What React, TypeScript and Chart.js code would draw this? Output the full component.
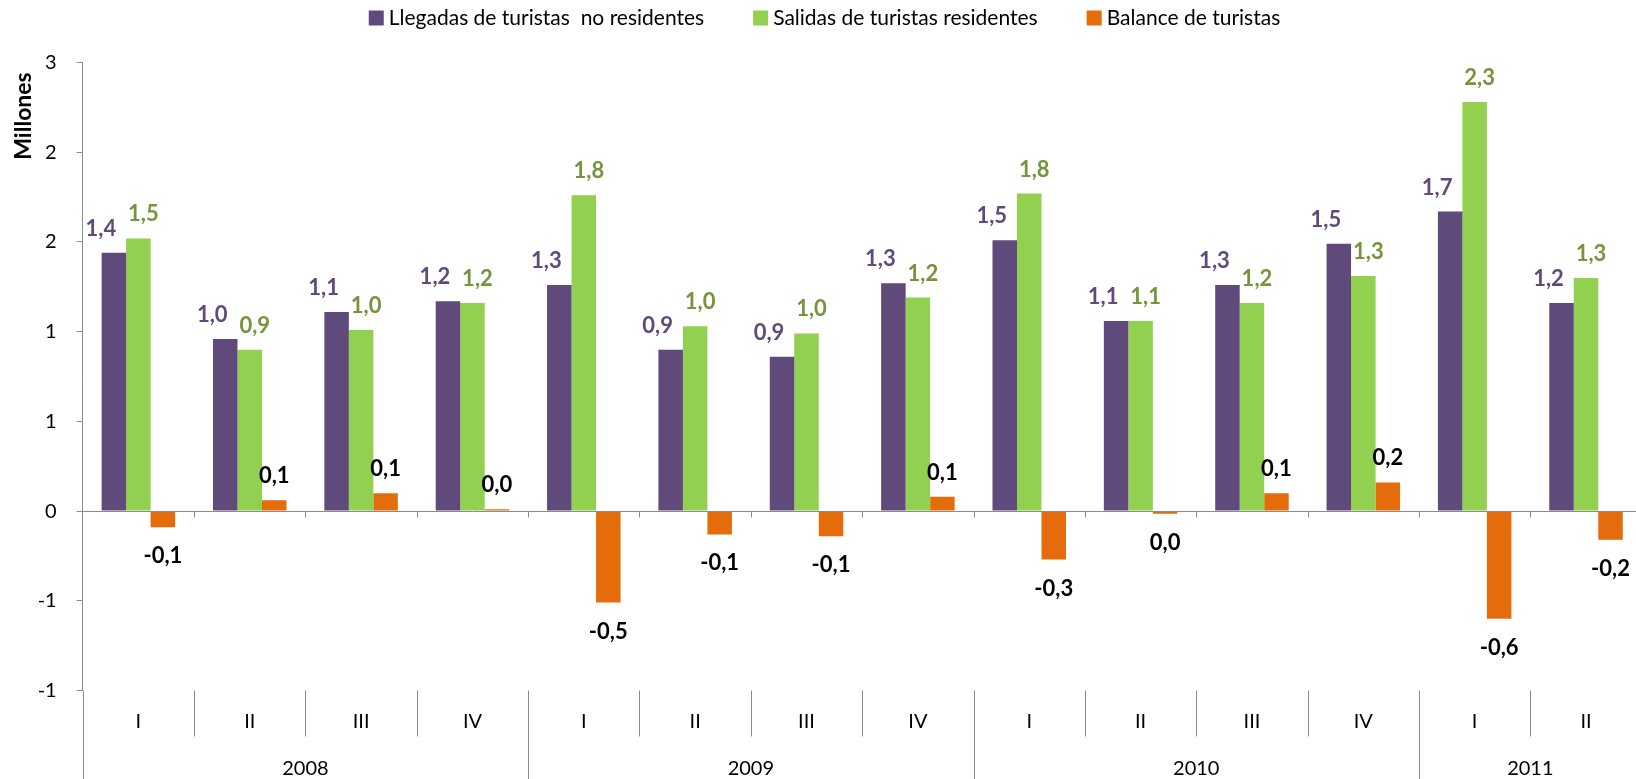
import React, { useEffect, useRef } from "react";
import { Chart, registerables } from "chart.js";

Chart.register(...registerables);

// ---------- data ----------
const quarters = ["I", "II", "III", "IV", "I", "II", "III", "IV", "I", "II", "III", "IV", "I", "II"];
const categoryYears = ["2008", "2008", "2008", "2008", "2009", "2009", "2009", "2009", "2010", "2010", "2010", "2010", "2011", "2011"];
const seriesNames = ["Llegadas de turistas  no residentes", "Salidas de turistas residentes", "Balance de turistas"];
const llegadas = [1.44, 0.96, 1.11, 1.17, 1.26, 0.9, 0.86, 1.27, 1.51, 1.06, 1.26, 1.49, 1.67, 1.16];
const salidas = [1.52, 0.9, 1.01, 1.16, 1.76, 1.03, 0.99, 1.19, 1.77, 1.06, 1.16, 1.31, 2.28, 1.3];
const balance = [-0.09, 0.06, 0.1, 0.01, -0.51, -0.13, -0.14, 0.08, -0.27, -0.015, 0.1, 0.16, -0.6, -0.16];
const yMin = -1;
const yMax = 2.5;
const yStep = 0.5;
const yTitle = "Millones";

// ---------- styles ----------
const FONT = "Lato";
const PURPLE = "#604A7B";
const GREEN = "#92D050";
const ORANGE = "#E46C0A";
const LABEL_COLORS = ["#604A7B", "#77933C", "#000000"];
const AXIS = "#8C8C8C";
const CANVAS_W = 1650;
const CANVAS_H = 779;

const fmt = (v: number) => (Math.abs(v) < 0.05 ? 0 : v).toFixed(1).replace(".", ",");

const overlay = {
  id: "overlay",
  afterDatasetsDraw(chart: any) {
    const { ctx, chartArea } = chart;
    const xs = chart.scales.x;
    const ys = chart.scales.y;
    const n = quarters.length;
    const band = xs.getPixelForValue(1) - xs.getPixelForValue(0);
    const y0 = Math.round(ys.getPixelForValue(0)) + 0.5;
    ctx.save();
    ctx.strokeStyle = AXIS;
    ctx.lineWidth = 1;
    // zero axis line + tick marks
    ctx.beginPath();
    ctx.moveTo(chartArea.left, y0);
    ctx.lineTo(chartArea.right, y0);
    for (let i = 1; i <= n; i++) {
      const bx = Math.round(xs.getPixelForValue(i - 1) + band / 2) + 0.5;
      ctx.moveTo(bx, y0);
      ctx.lineTo(bx, y0 + 6);
    }
    ctx.stroke();
    // separators below the plot
    ctx.beginPath();
    for (let i = 0; i <= n; i++) {
      const bx = Math.round(chartArea.left + i * band) + 0.5;
      const yearEdge = i === 0 || i === n || categoryYears[i] !== categoryYears[i - 1];
      ctx.moveTo(bx, chartArea.bottom);
      ctx.lineTo(bx, yearEdge ? CANVAS_H : chartArea.bottom + 46);
    }
    ctx.stroke();
    // quarter labels
    ctx.fillStyle = "#000";
    ctx.font = `20px ${FONT}`;
    ctx.textAlign = "center";
    ctx.textBaseline = "middle";
    for (let i = 0; i < n; i++) {
      ctx.fillText(quarters[i], xs.getPixelForValue(i), chartArea.bottom + 31);
    }
    // year labels
    let start = 0;
    for (let i = 1; i <= n; i++) {
      if (i === n || categoryYears[i] !== categoryYears[start]) {
        const cx = chartArea.left + ((start + i) / 2) * band;
        ctx.fillText(categoryYears[start], cx, chartArea.bottom + 78);
        start = i;
      }
    }
    // data labels
    ctx.font = `bold 22px ${FONT}`;
    ctx.textBaseline = "alphabetic";
    chart.data.datasets.forEach((ds: any, di: number) => {
      const meta = chart.getDatasetMeta(di);
      ctx.fillStyle = LABEL_COLORS[di];
      meta.data.forEach((el: any, i: number) => {
        const v = ds.data[i];
        let lx = el.x;
        let ly;
        if (di === 0) lx -= 13;
        if (di === 1) lx += 5;
        if (v >= 0) ly = el.y - 17;
        else ly = el.y + 36;
        ctx.fillText(fmt(v), lx, ly);
      });
    });
    ctx.restore();
  },
  afterDraw(chart: any) {
    const { ctx } = chart;
    ctx.save();
    // y title
    ctx.translate(24, 116);
    ctx.rotate(-Math.PI / 2);
    ctx.font = `bold 23px ${FONT}`;
    ctx.fillStyle = "#000";
    ctx.textAlign = "center";
    ctx.textBaseline = "middle";
    ctx.fillText(yTitle, 0, 0);
    ctx.restore();
    // legend
    ctx.save();
    ctx.font = `21px ${FONT}`;
    ctx.textBaseline = "middle";
    ctx.textAlign = "left";
    const colors = [PURPLE, GREEN, ORANGE];
    const box = 15;
    const gap = 5;
    const spacing = 49;
    const widths = seriesNames.map((s) => ctx.measureText(s).width);
    const total = widths.reduce((a, w) => a + box + gap + w, 0) + spacing * (seriesNames.length - 1);
    let x = 824.5 - total / 2;
    const cy = 18;
    seriesNames.forEach((s, i) => {
      ctx.fillStyle = colors[i];
      ctx.fillRect(x, cy - 7.5, box, box);
      ctx.fillStyle = "#000";
      ctx.fillText(s, x + box + gap, cy);
      x += box + gap + widths[i] + spacing;
    });
    ctx.restore();
  },
};

export default function App() {
  const ref = useRef<HTMLCanvasElement | null>(null);
  useEffect(() => {
    if (!ref.current) return;
    const chart = new Chart(ref.current, {
      type: "bar",
      data: {
        labels: quarters.map((q, i) => `${q} ${categoryYears[i]}`),
        datasets: [
          { label: seriesNames[0], data: llegadas, backgroundColor: PURPLE },
          { label: seriesNames[1], data: salidas, backgroundColor: GREEN },
          { label: seriesNames[2], data: balance, backgroundColor: ORANGE },
        ],
      },
      options: {
        responsive: false,
        animation: false,
        devicePixelRatio: 1,
        layout: { padding: { left: 0, top: 62.6, right: 8.3, bottom: 88.5 } },
        datasets: { bar: { barPercentage: 1, categoryPercentage: 0.66 } },
        plugins: { legend: { display: false }, tooltip: { enabled: false }, title: { display: false } },
        scales: {
          x: { display: false, offset: true },
          y: {
            min: yMin,
            max: yMax,
            afterFit: (s: any) => {
              s.width = 82.7;
            },
            ticks: {
              stepSize: yStep,
              padding: 20,
              color: "#000",
              font: { family: FONT, size: 20 },
              callback: (v: any) => {
                const n = Number(v);
                return String(Math.sign(n) * Math.round(Math.abs(n)));
              },
            },
            grid: { drawOnChartArea: false, drawTicks: true, tickLength: 6, color: AXIS },
            border: { display: true, color: AXIS, width: 1 },
          },
        },
      },
      plugins: [overlay],
    });
    return () => chart.destroy();
  }, []);
  return (
    <div style={{ position: "fixed", left: 0, top: 0, width: 1636, height: 779, overflow: "hidden", background: "#fff" }}>
      <canvas ref={ref} width={CANVAS_W} height={CANVAS_H} style={{ display: "block", width: CANVAS_W, height: CANVAS_H }} />
    </div>
  );
}
